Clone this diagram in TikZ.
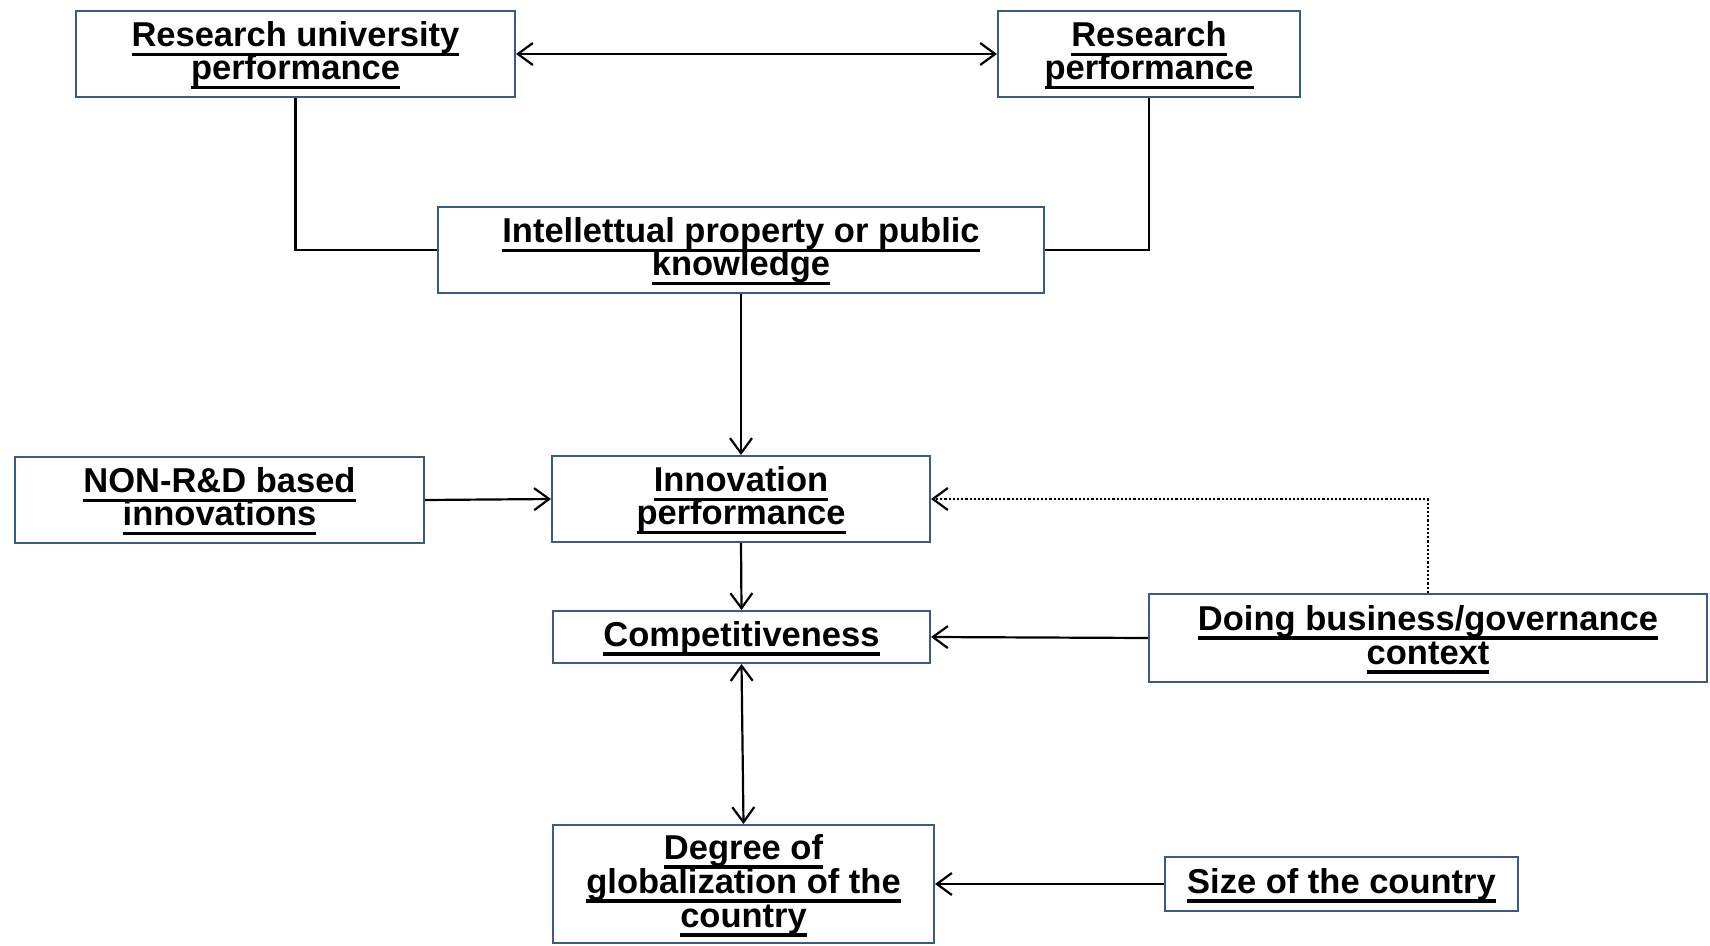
\documentclass[tikz,border=0pt]{standalone}
\usepackage{fontspec}
\setmainfont{Liberation Sans}
\usetikzlibrary{arrows.meta}
\definecolor{boxblue}{HTML}{3A5A8C}
\newcommand\myul[1]{\setbox0\hbox{#1}\leavevmode\rlap{\smash{\rule[-9.5pt]{\wd0}{3.5pt}}}\box0\rule[-7.2pt]{0pt}{33pt}}
\begin{document}
\begin{tikzpicture}[x=1pt,y=-1pt,
  box/.style={draw=boxblue,line width=2pt,fill=white,align=center,inner sep=0pt,
    font=\bfseries\fontsize{34.5}{33}\selectfont},
  conn/.style={line width=2.2pt,draw=black},
  tip/.style={-{Straight Barb[length=15pt,width=22pt,line width=2.2pt]}},
  dtip/.style={{Straight Barb[length=15pt,width=22pt,line width=2.2pt]}-{Straight Barb[length=15pt,width=22pt,line width=2.2pt]}}
]
\useasboundingbox (0,0) rectangle (1710,945);
\fill[white] (0,0) rectangle (1710,945);

\node[box,minimum width=439pt,minimum height=86pt] (ru) at (295.5,54) {\myul{Research university}\\\myul{performance}};
\node[box,minimum width=302pt,minimum height=86pt] (rp) at (1149,54) {\myul{Research}\\\myul{performance}};
\node[box,minimum width=606pt,minimum height=86pt] (ip) at (741,250) {\myul{Intellettual property or public}\\\myul{knowledge}};
\node[box,minimum width=409pt,minimum height=86pt] (non) at (219.5,500) {\myul{NON-R\&D based}\\\myul{innovations}};
\node[box,minimum width=378pt,minimum height=86pt] (inn) at (741,499) {\myul{Innovation}\\\myul{performance}};
\node[box,minimum width=377pt,minimum height=52pt] (comp) at (741.5,637) {\myul{Competitiveness}};
\node[box,minimum width=558pt,minimum height=88pt] (db) at (1428,638) {\myul{Doing business/governance}\\\myul{context}};
\node[box,minimum width=381pt,minimum height=118pt] (deg) at (743.5,884) {\myul{Degree of}\\\myul{globalization of the}\\\myul{country}};
\node[box,minimum width=353pt,minimum height=54pt] (size) at (1341.5,884) {\myul{Size of the country}};

\draw[conn,dtip] (ru.east) -- (rp.west);
\draw[conn] (ru.south) -- (ru.south |- ip.west) -- (ip.west);
\draw[conn] (rp.south) -- (rp.south |- ip.east) -- (ip.east);
\draw[conn,tip] (ip.south) -- (inn.north);
\draw[conn,tip] (non.east) -- (inn.west);
\draw[conn,tip] (inn.south) -- (comp.north);
\draw[conn,tip] (db.west) -- (comp.east);
\draw[conn,tip,dotted] (db.north) -- (db.north |- inn.east) -- (inn.east);
\draw[conn,dtip] (comp.south) -- (deg.north);
\draw[conn,tip] (size.west) -- (deg.east);
\end{tikzpicture}
\end{document}
